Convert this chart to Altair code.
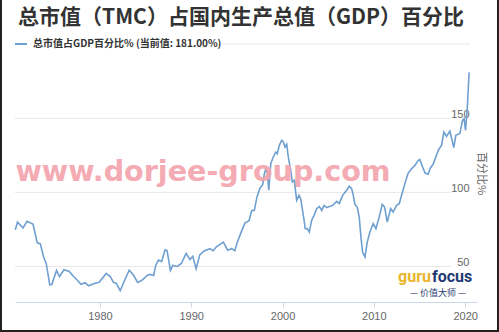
import altair as alt
import pandas as pd

# ---- data ----
years = [1970.73, 1970.98, 1971.58, 1972.01, 1972.67, 1973.14, 1973.47, 1973.83, 1974.12, 1974.51,
         1974.73, 1975.25, 1975.57, 1976.06, 1976.64, 1977.02, 1977.48, 1977.93, 1978.39, 1978.75,
         1979.38, 1979.92, 1980.69, 1981.13, 1981.49, 1981.78, 1982.22, 1982.71, 1983.21, 1983.64,
         1984.14, 1984.60, 1985.18, 1985.50, 1985.89, 1986.11, 1986.41, 1986.76, 1987.14, 1987.36,
         1987.72, 1987.99, 1988.46, 1988.92, 1989.44, 1989.85, 1990.17, 1990.54, 1990.94, 1991.41,
         1992.04, 1992.40, 1992.76, 1993.52, 1994.00, 1994.44, 1994.77, 1995.05, 1995.46, 1995.90,
         1996.33, 1996.63, 1996.91, 1997.21, 1997.54, 1997.83, 1998.01, 1998.19, 1998.34, 1998.49,
         1998.71, 1998.99, 1999.26, 1999.43, 1999.65, 1999.91, 2000.09, 2000.27, 2000.46, 2000.63,
         2000.90, 2001.07, 2001.29, 2001.55, 2001.81, 2001.99, 2002.28, 2002.49, 2002.71, 2002.93,
         2003.19, 2003.45, 2003.74, 2004.03, 2004.29, 2004.54, 2004.84, 2005.12, 2005.49, 2005.93,
         2006.21, 2006.59, 2007.02, 2007.31, 2007.57, 2007.75, 2007.93, 2008.18, 2008.40, 2008.59,
         2008.77, 2009.03, 2009.28, 2009.57, 2009.93, 2010.23, 2010.59, 2010.92, 2011.18, 2011.47,
         2011.84, 2012.12, 2012.49, 2012.78, 2013.04, 2013.40, 2013.76, 2014.14, 2014.50, 2014.86,
         2015.04, 2015.34, 2015.62, 2015.95, 2016.21, 2016.50, 2016.79, 2017.05, 2017.42, 2017.67,
         2017.96, 2018.33, 2018.76, 2018.98, 2019.42, 2019.72, 2019.89, 2020.04, 2020.22, 2020.44]

values = [74.8, 79.9, 76.0, 80.5, 78.6, 65.9, 65.3, 56.4, 52.0, 37.6,
          37.8, 47.3, 43.2, 47.8, 46.6, 43.9, 41.0, 38.0, 39.0, 36.9,
          38.5, 39.3, 45.3, 43.2, 39.2, 38.7, 33.6, 40.7, 47.5, 44.4,
          39.2, 40.7, 43.9, 44.6, 43.9, 50.7, 54.3, 53.2, 61.3, 60.6,
          47.3, 50.7, 50.0, 52.0, 58.8, 54.7, 56.8, 48.4, 57.8, 60.5,
          62.0, 60.6, 63.3, 66.4, 61.0, 62.0, 60.6, 66.4, 73.0, 79.4,
          80.9, 87.8, 87.8, 97.1, 103.0, 105.2, 112.6, 116.0, 113.7, 101.4,
          119.4, 123.9, 127.2, 126.1, 131.8, 135.1, 134.0, 130.6, 132.4, 123.9,
          114.9, 107.0, 108.1, 94.6, 98.0, 95.7, 84.5, 75.5, 75.5, 73.2,
          81.1, 84.5, 89.0, 90.5, 87.8, 91.2, 89.7, 90.5, 91.2, 93.9,
          92.4, 98.0, 101.4, 104.1, 102.5, 98.0, 91.9, 90.1, 83.3, 69.8,
          59.7, 56.3, 66.4, 73.2, 78.9, 75.5, 83.3, 91.9, 90.1, 79.9,
          89.0, 86.7, 91.2, 92.4, 98.0, 105.9, 113.0, 116.0, 118.2, 121.6,
          122.1, 117.1, 113.0, 112.2, 116.7, 118.9, 123.9, 128.4, 131.8, 140.7,
          137.8, 141.4, 130.2, 138.5, 139.7, 148.6, 149.8, 141.9, 155.4, 181.0]

x_ticks = [1980, 1990, 2000, 2010, 2020]
y_ticks = [50, 100, 150]

title_text = "总市值（TMC）占国内生产总值（GDP）百分比"
legend_text = "总市值占GDP百分比% (当前值: 181.00%)"
y_title = "百分比%"
watermark = "www.dorjee-group.com"

LINE = "#6f9fd0"
W, H = 462, 240

df = pd.DataFrame({"year": years, "v": values})
grid_df = pd.DataFrame({"v": y_ticks})

xscale = alt.Scale(domain=[1970.7, 2021.3], nice=False, zero=False)
yscale = alt.Scale(domain=[26, 188], nice=False, zero=False)

yaxis = alt.Axis(orient="right", values=y_ticks, grid=False, domain=False, ticks=False,
                 labelAlign="right", labelPadding=-8, labelBaseline="alphabetic", labelOffset=-1,
                 labelColor="#666666", labelFontSize=11, labelFont="Liberation Sans",
                 title=y_title, titleAngle=90, titleX=3, titleY=111, titleAlign="center",
                 titleBaseline="middle", titleColor="#666666", titleFontSize=11,
                 titleFontWeight="normal", titleFont="Noto Sans CJK SC")
xaxis = alt.Axis(values=x_ticks, format="d", grid=False, domainColor="#ccd6eb",
                 tickColor="#ccd6eb", tickSize=5, labelPadding=3, labelColor="#666666",
                 labelFontSize=11, labelFont="Liberation Sans", title=None, labelFlush=False)

grid = alt.Chart(grid_df).mark_rule(color="#e6e6e6", strokeWidth=1).encode(
    y=alt.Y("v:Q", scale=yscale, axis=yaxis),
    x=alt.value(0), x2=alt.value(436))

line = alt.Chart(df).mark_line(color=LINE, strokeWidth=1.6).encode(
    x=alt.X("year:Q", scale=xscale, axis=xaxis),
    y=alt.Y("v:Q", scale=yscale, axis=yaxis))


def txt(s, **kw):
    enc = {k: v for k, v in kw.items() if k in ("x", "y")}
    mk = {k: v for k, v in kw.items() if k not in ("x", "y")}
    return alt.Chart(pd.DataFrame({"t": [s]})).mark_text(**mk).encode(
        text="t:N", x=alt.value(enc["x"]), y=alt.value(enc["y"]))


title = txt(title_text, x=226, y=-44, fontSize=21, fontWeight="bold", font="Noto Sans CJK SC",
            color="#333333", align="center", baseline="middle")
legend_sym = alt.Chart(pd.DataFrame({"t": [1]})).mark_rule(color=LINE, strokeWidth=2).encode(
    x=alt.value(0), x2=alt.value(12), y=alt.value(-18))
legend_sep = alt.Chart(pd.DataFrame({"t": [1]})).mark_rule(color="#e8e8e8", strokeWidth=1).encode(
    x=alt.value(207), x2=alt.value(455), y=alt.value(-18))
legend_lbl = txt(legend_text, x=18, y=-18, fontSize=10, fontWeight="bold", font="Noto Sans CJK SC",
                 color="#333333", align="left", baseline="middle")
wm = txt(watermark, x=188, y=119, fontSize=28.6, fontWeight="bold", font="DejaVu Sans",
         color="#f4a2ab", opacity=0.9, align="center", baseline="alphabetic")
guru = txt("guru", x=416, y=220, fontSize=16, fontWeight="bold", font="Roboto",
           color="#e9b52c", align="right", baseline="alphabetic")
focus = txt("focus", x=417, y=220, fontSize=16, fontWeight="bold", font="Roboto",
            color="#1f3b73", align="left", baseline="alphabetic")
tag = txt("— 价值大师 —", x=423, y=231, fontSize=9, font="Noto Sans CJK SC",
          color="#1f3b73", align="center", baseline="middle")

frame_l = alt.Chart(pd.DataFrame({"t": [1]})).mark_rule(color="#222222", strokeWidth=2).encode(
    x=alt.value(-14), y=alt.value(-62), y2=alt.value(270))
frame_r = alt.Chart(pd.DataFrame({"t": [1]})).mark_rule(color="#222222", strokeWidth=2).encode(
    x=alt.value(483), y=alt.value(-62), y2=alt.value(270))
frame_b = alt.Chart(pd.DataFrame({"t": [1]})).mark_rule(color="#222222", strokeWidth=2).encode(
    x=alt.value(-15), x2=alt.value(484), y=alt.value(269))

chart = alt.layer(grid, line, wm, title, legend_sym, legend_sep, legend_lbl, guru, focus, tag,
                  frame_l, frame_r, frame_b).properties(
    width=W, height=H,
    autosize=alt.AutoSizeParams(type="none"),
    padding={"left": 15, "top": 62, "right": 22, "bottom": 30},
    background="white",
).configure_view(stroke=None)

chart.save("out.html", embed_options={"renderer": "svg", "actions": False})
